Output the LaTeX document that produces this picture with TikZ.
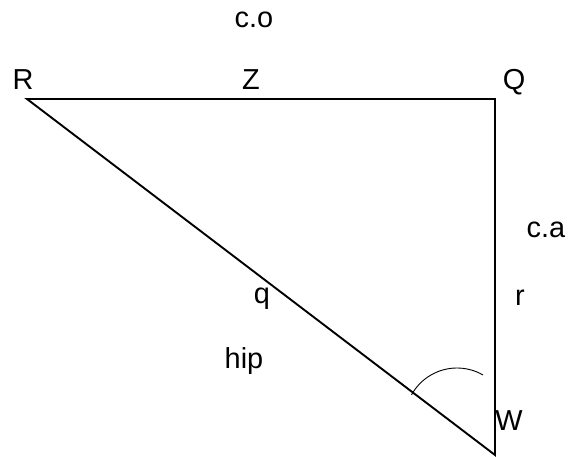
\documentclass[tikz,border=0pt]{standalone}
\usepackage{fontspec}
\setmainfont{Liberation Sans}
\usetikzlibrary{positioning}

\begin{document}
\begin{tikzpicture}[x=1bp, y=-1bp,
    side/.style={line width=1.9bp, line join=miter},
    lbl/.style={anchor=base, inner sep=0pt, font=\fontsize{29}{34}\selectfont}]
  \useasboundingbox (0,0) rectangle (569,457);
  \coordinate (r) at (27,99);
  \coordinate (q) at (495,99);
  \coordinate (w) at (495,455);
  \coordinate (m) at (457,420);

  % triangle
  \draw[side] (r) -- (q) -- (w) -- cycle;
  % angle mark
  \draw[line width=0.9bp] ([shift={(209:52)}]m) arc[start angle=209, end angle=300, radius=52];

  \node[lbl] (lr)   at (23,90)  {R};
  \node[lbl] (lz)   at (251,90) {Z};
  \node[lbl] (lq)   at (514,90) {Q};
  \node[lbl] (lco)  at (254,28) {c.o};
  \node[lbl] (lca)  at (546,238){c.a};
  \node[lbl] (lrr)  at (520,305){r};
  \node[lbl] (lqq)  at (262,303){q};
  \node[lbl] (lhip) at (244,368){hip};
  \node[lbl] (lw)   at (509,430){W};
\end{tikzpicture}
\end{document}
